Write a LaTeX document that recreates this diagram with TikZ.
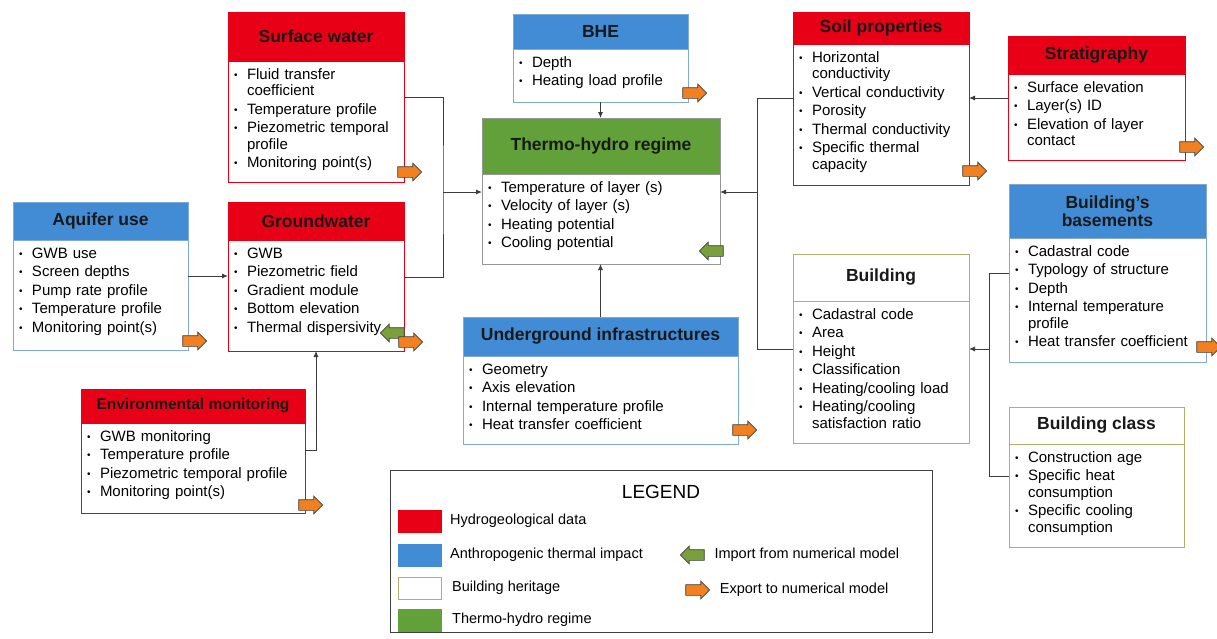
\documentclass[tikz,border=0pt]{standalone}
\usepackage{fontspec}
\setmainfont{Liberation Sans}
\usetikzlibrary{positioning,shapes.arrows,arrows.meta}

\definecolor{hydro}{RGB}{232,0,22}
\definecolor{anthro}{RGB}{66,140,214}
\definecolor{thermo}{RGB}{98,160,58}
\definecolor{heritage}{RGB}{176,176,110}
\definecolor{bluerule}{RGB}{130,168,216}
\definecolor{grayrule}{RGB}{150,150,150}
\definecolor{expfill}{RGB}{240,128,32}
\definecolor{impfill}{RGB}{122,160,60}
\definecolor{linecol}{RGB}{60,60,60}

\newcommand{\hdfont}{\fontsize{17.5}{18}\selectfont\bfseries}
\newcommand{\bl}{\llap{\hbox to 13pt{\raisebox{1pt}{\fontsize{10}{10}\selectfont\textbullet}\hfil}}}
\newcommand{\lnbrk}{\hfil\break}
\newcommand{\nitem}{\vadjust{\vskip 2pt}\hfil\break\bl}
\newcommand{\blist}[1]{\fontsize{15}{16.5}\selectfont\hangindent=13pt\hangafter=0\relax #1\par}

\tikzset{
  hd/.style 2 args={anchor=north west, draw=#1, fill=#2, line width=1pt, inner sep=0pt,
    outer sep=0pt, align=center, text=black!90, font=\hdfont},
  bd/.style={anchor=north, draw=#1, fill=white, line width=1pt, inner xsep=6pt,
    inner ysep=4pt, outer sep=0pt, text height=14pt, font=\fontsize{15}{16.5}\selectfont},
  conn/.style={draw=linecol, line width=0.9pt},
  tip/.style={-{Latex[length=6pt,width=5pt]}},
  exparr/.style={single arrow, draw=black!75, fill=expfill, line width=0.7pt,
    minimum height=24pt, single arrow head extend=3.5pt,
    inner xsep=0pt, inner ysep=5pt, outer sep=0pt},
  imparr/.style={exparr, fill=impfill, shape border rotate=180},
  swatch/.style={minimum width=43pt, minimum height=22pt, inner sep=0pt, line width=1pt},
  legtxt/.style={inner sep=0pt, font=\fontsize{14.5}{16}\selectfont}
}

\begin{document}
\begin{tikzpicture}[x=1pt, y=-1pt]
\useasboundingbox[fill=white] (0,0) rectangle (1217,638);

% hydrogeological data
\node[hd={hydro}{hydro}, minimum width=176pt, minimum height=49pt] (sw-h) at (228,12) {Surface water};
\node[bd=hydro, below=0pt of sw-h, text width=164pt, text depth=99pt] (sw-b)
  {\blist{\bl Fluid transfer\lnbrk coefficient\nitem Temperature profile\nitem Piezometric temporal\lnbrk profile\nitem Monitoring point(s)}};

\node[hd={hydro}{hydro}, minimum width=176pt, minimum height=38pt] (gw-h) at (228,202) {Groundwater};
\node[bd=hydro, below=0pt of gw-h, text width=164pt, text depth=89pt] (gw-b)
  {\blist{\bl GWB\nitem Piezometric field\nitem Gradient module\nitem Bottom elevation\nitem Thermal dispersivity}};

\node[hd={hydro}{hydro}, minimum width=224pt, minimum height=34pt, font=\fontsize{15.5}{16}\selectfont\bfseries] (en-h) at (81,389) {Environmental monitoring};
\node[bd=hydro, below=0pt of en-h, text width=212pt, text depth=68pt] (en-b)
  {\blist{\bl GWB monitoring\nitem Temperature profile\nitem Piezometric temporal profile\nitem Monitoring point(s)}};

\node[hd={hydro}{hydro}, minimum width=176pt, minimum height=32pt] (so-h) at (793,12) {Soil properties};
\node[bd=hydro, below=0pt of so-h, text width=164pt, text depth=119pt] (so-b)
  {\blist{\bl Horizontal\lnbrk conductivity\nitem Vertical conductivity\nitem Porosity\nitem Thermal conductivity\nitem Specific thermal\lnbrk capacity}};

\node[hd={hydro}{hydro}, minimum width=177pt, minimum height=38pt] (st-h) at (1008,36) {Stratigraphy};
\node[bd=hydro, below=0pt of st-h, text width=165pt, text depth=64pt] (st-b)
  {\blist{\bl Surface elevation\nitem Layer(s) ID\nitem Elevation of layer\lnbrk contact}};

% anthropogenic thermal impact
\node[hd={bluerule}{anthro}, minimum width=175pt, minimum height=35pt] (bh-h) at (513,14) {BHE};
\node[bd=bluerule, below=0pt of bh-h, text width=163pt, text depth=31pt] (bh-b)
  {\blist{\bl Depth\nitem Heating load profile}};

\node[hd={bluerule}{anthro}, minimum width=175pt, minimum height=38pt] (aq-h) at (13,202) {Aquifer use};
\node[bd=bluerule, below=0pt of aq-h, text width=163pt, text depth=88pt] (aq-b)
  {\blist{\bl GWB use\nitem Screen depths\nitem Pump rate profile\nitem Temperature profile\nitem Monitoring point(s)}};

\node[hd={bluerule}{anthro}, minimum width=275pt, minimum height=39pt] (in-h) at (463,317) {Underground infrastructures};
\node[bd=bluerule, below=0pt of in-h, text width=263pt, text depth=66pt] (in-b)
  {\blist{\bl Geometry\nitem Axis elevation\nitem Internal temperature profile\nitem Heat transfer coefficient}};

\node[hd={bluerule}{anthro}, minimum width=197pt, minimum height=54pt] (bb-h) at (1009,184) {Building's\\basements};
\node[bd=bluerule, below=0pt of bb-h, text width=185pt, text depth=102pt] (bb-b)
  {\blist{\bl Cadastral code\nitem Typology of structure\nitem Depth\nitem Internal temperature\lnbrk profile\nitem Heat transfer coefficient}};

% building heritage
\node[hd={heritage}{white}, minimum width=176pt, minimum height=47pt] (bu-h) at (793,254) {Building};
\node[bd=heritage, below=0pt of bu-h, text width=164pt, text depth=120pt] (bu-b)
  {\blist{\bl Cadastral code\nitem Area\nitem Height\nitem Classification\nitem Heating/cooling load\nitem Heating/cooling\lnbrk satisfaction ratio}};

\node[hd={heritage}{white}, minimum width=175pt, minimum height=37pt] (bc-h) at (1009,407) {Building class};
\node[bd=heritage, below=0pt of bc-h, text width=163pt, text depth=81pt] (bc-b)
  {\blist{\bl Construction age\nitem Specific heat\lnbrk consumption\nitem Specific cooling\lnbrk consumption}};

% thermo-hydro regime
\node[hd={grayrule}{thermo}, minimum width=238pt, minimum height=56pt] (th-h) at (482,118) {Thermo-hydro regime};
\node[bd=grayrule, below=0pt of th-h, text width=226pt, text depth=68pt] (th-b)
  {\blist{\bl Temperature of layer (s)\nitem Velocity of layer (s)\nitem Heating potential\nitem Cooling potential}};

% connectors
\coordinate (lj) at (443,192);
\coordinate (rj) at (757,192);
\coordinate (bj) at (989,349);
\coordinate (st-o) at ([yshift=19pt]st-b.west);
\coordinate (aq-o) at ([yshift=19pt]aq-b.east);

\draw[conn] ([yshift=24.5pt]sw-b.east) -| (lj) |- ([yshift=18.5pt]gw-b.east);
\draw[conn,tip] (lj) -- (lj -| th-b.west);
\draw[conn,tip] (aq-o) -- (aq-o -| gw-b.west);
\draw[conn,tip] ([yshift=18pt]en-b.east) -| (gw-b.south);
\draw[conn,tip] (bh-b.south) -- (bh-b.south |- th-h.north);
\draw[conn,tip] (in-h.north) -- (in-h.north |- th-b.south);
\draw[conn] ([yshift=16.5pt]so-b.west) -| (rj) |- ([yshift=23pt]bu-b.west);
\draw[conn,tip] (rj) -- (rj -| th-b.east);
\draw[conn,tip] (st-o) -- (st-o -| so-b.east);
\draw[conn] ([yshift=27pt]bb-b.west) -| (bj) |- ([yshift=19.5pt]bc-b.west);
\draw[conn,tip] (bj) -- (bj -| bu-b.east);

% import / export markers
\node[exparr] (sw-x) at (407,172) {};
\node[exparr] (aq-x) at (192,341) {};
\node[imparr] (gw-i) at (395,333) {};
\node[exparr] (gw-x) at (408,342) {};
\node[exparr] (bh-x) at (692,93) {};
\node[imparr] (th-i) at (714,251) {};
\node[exparr] (so-x) at (972,171) {};
\node[exparr] (st-x) at (1189,147) {};
\node[exparr] (bb-x) at (1206,347) {};
\node[exparr] (in-x) at (742,430) {};
\node[exparr] (en-x) at (308,505) {};

% legend
\node[draw=black!75, line width=1.3pt, anchor=north west, minimum width=542pt, minimum height=162pt, inner sep=0pt] (leg) at (390,470) {};
\node[font=\fontsize{19}{19}\selectfont, inner sep=0pt] (leg-t) at (661,492) {LEGEND};
\node[swatch, fill=hydro, draw=hydro] (k1) at (420,521) {};
\node[swatch, fill=anthro, draw=anthro] (k2) at (420,555) {};
\node[swatch, fill=white, draw=heritage] (k3) at (420,588) {};
\node[swatch, fill=thermo, draw=thermo] (k4) at (420,620) {};
\node[legtxt, right=8pt of k1] (k1-t) {Hydrogeological data};
\node[legtxt, right=8pt of k2] (k2-t) {Anthropogenic thermal impact};
\node[legtxt, right=10pt of k3] (k3-t) {Building heritage};
\node[legtxt, right=10pt of k4] (k4-t) {Thermo-hydro regime};
\node[imparr] (leg-i) at (695,555) {};
\node[exparr] (leg-x) at (695,590) {};
\node[legtxt, right=10pt of leg-i] (leg-i-t) {Import from numerical model};
\node[legtxt, right=10pt of leg-x] (leg-x-t) {Export to numerical model};
\end{tikzpicture}
\end{document}
